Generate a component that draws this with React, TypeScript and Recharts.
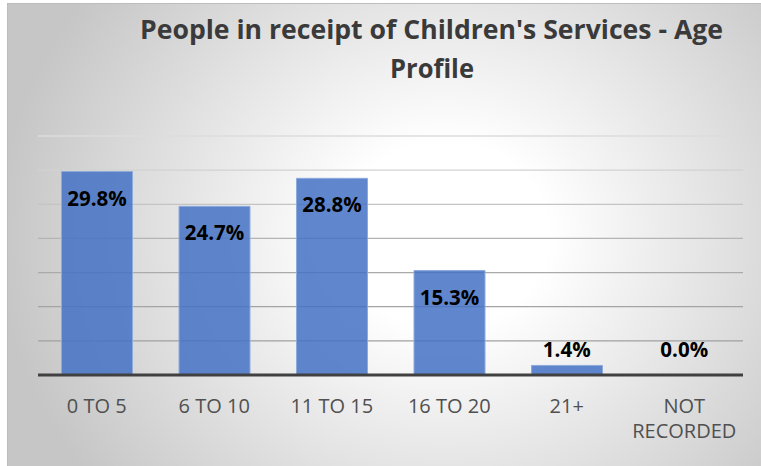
import React from "react";
import { ComposedChart, Bar, Line, XAxis, YAxis, CartesianGrid, LabelList } from "recharts";

const categories = ["0 TO 5", "6 TO 10", "11 TO 15", "16 TO 20", "21+", "NOT RECORDED"];
const percentages = [29.8, 24.7, 28.8, 15.3, 1.4, 0.0];
const yTicks = [0, 5, 10, 15, 20, 25, 30, 35];
const titleLines = ["People in receipt of Children's Services - Age", "Profile"];

const data = categories.map((c, i) => ({ name: c, value: percentages[i], base: 0 }));

const W = 754;
const H = 463;
const SMALL = 5;

const gridColors = ["#9e9e9e", "#a0a0a0", "#a4a4a4", "#aaaaaa", "#b4b4b4", "#c4c4c4", "#d2d2d2", "#dcdcdc"];

const GridLine = (props: any) => {
  const { x1, x2, y1, y2, index } = props;
  const v = yTicks[index];
  if (v === 0) return null;
  return <line x1={x1} x2={x2} y1={y1} y2={y2} stroke={gridColors[index] || "#bfbfbf"} strokeWidth={1.3} />;
};

const Tick = (props: any) => {
  const { x, y, payload } = props;
  const label: string = payload.value;
  const lines = label.length > 10 ? label.split(" ") : [label];
  return (
    <text x={x} y={y} textAnchor="middle" fill="#505050" fontFamily="'Open Sans', sans-serif" fontSize={20}>
      {lines.map((l, i) => (
        <tspan key={i} x={x} dy={i === 0 ? 38 : 25}>
          {l}
        </tspan>
      ))}
    </text>
  );
};

const labelStyle = {
  fill: "#000",
  fontFamily: "'Open Sans', sans-serif",
  fontWeight: 700,
  fontSize: 20.5,
} as const;

// Labels inside the top of tall bars
const InsideLabel = (props: any) => {
  const { x, y, width, value } = props;
  if (value == null || value < SMALL) return null;
  return (
    <text x={x + width / 2} y={y + 34} textAnchor="middle" {...labelStyle}>
      {Number(value).toFixed(1) + "%"}
    </text>
  );
};

// Labels above the baseline for small bars
const BaseLabel = (props: any) => {
  const { x, y, value } = props;
  if (value == null || value >= SMALL) return null;
  return (
    <text x={x} y={y - 18} textAnchor="middle" {...labelStyle}>
      {Number(value).toFixed(1) + "%"}
    </text>
  );
};

export default function App() {
  return (
    <div
      style={{
        position: "absolute",
        left: 7,
        top: 3,
        width: W,
        height: H,
        boxSizing: "border-box",
        borderTop: "1px solid #bdbdbd",
        borderLeft: "1px solid #bdbdbd",
        background: "radial-gradient(ellipse 470px 420px at 58% 50%, #ffffff 22%, #c6c6c6 95%)",
        overflow: "hidden",
      }}
    >
      <svg width={W} height={90} style={{ position: "absolute", left: 0, top: 0 }}>
        <text x={423.5} y={35} textAnchor="middle" fill="#3a3a3a" fontFamily="'Open Sans', sans-serif" fontWeight={700} fontSize={27.5} textLength={583} lengthAdjust="spacingAndGlyphs">
          {titleLines[0]}
        </text>
        <text x={424} y={74} textAnchor="middle" fill="#3a3a3a" fontFamily="'Open Sans', sans-serif" fontWeight={700} fontSize={27.5} textLength={84} lengthAdjust="spacingAndGlyphs">
          {titleLines[1]}
        </text>
      </svg>
      <div style={{ position: "absolute", left: -1, top: -1 }}>
        <ComposedChart width={W} height={H} data={data} margin={{ top: 133, right: 18, left: 31, bottom: 0 }} barCategoryGap="20%">
          <CartesianGrid vertical={false} horizontal={GridLine} />
          <YAxis hide domain={[0, 35]} ticks={yTicks} type="number" />
          <XAxis
            dataKey="name"
            height={91}
            interval={0}
            tickLine={false}
            tickSize={0}
            tickMargin={0}
            axisLine={{ stroke: "#404040", strokeWidth: 3 }}
            tick={<Tick />}
          />
          <Bar dataKey="value" fill="#4472C4" fillOpacity={0.85} stroke="#8eaadb" strokeWidth={1} isAnimationActive={false}>
            <LabelList dataKey="value" content={<InsideLabel />} />
          </Bar>
          <Line dataKey="base" stroke="none" dot={false} activeDot={false} isAnimationActive={false} legendType="none">
            <LabelList dataKey="value" content={<BaseLabel />} />
          </Line>
        </ComposedChart>
      </div>
    </div>
  );
}
